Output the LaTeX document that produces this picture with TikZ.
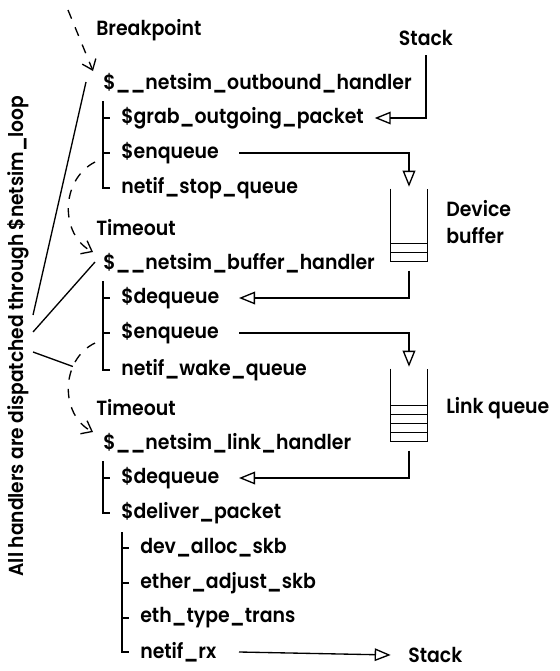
\documentclass[tikz,border=0pt]{standalone}
\usepackage{fontspec}
\setmainfont{Poppins}[BoldFont={* SemiBold}, FakeStretch=0.92]
\usepackage{tikz}
\usetikzlibrary{arrows.meta, positioning, calc}

\tikzset{
  txt/.style={anchor=west, inner sep=0pt, font=\fontsize{15.4}{20}\selectfont\bfseries},
  wire/.style={line width=1pt},
  opentri/.style={wire, -{Triangle[open, length=12pt, width=9.5pt]}},
  jump/.style={wire, dash pattern=on 7pt off 7pt, -{Straight Barb[length=7pt, width=11pt]}},
  bin/.style={minimum width=27pt, minimum height=54pt, inner sep=0pt},
}

\begin{document}
\begin{tikzpicture}[x=0.75pt, y=-0.75pt]
  \useasboundingbox (0,0) rectangle (560,671);

  % outbound handler
  \node[txt] (bp) at (96,30) {Breakpoint};
  \node[txt] (outh) at (103,83) {\$\_\_netsim\_outbound\_handler};
  \node[txt] (grab) at (121,118) {\$grab\_outgoing\_packet};
  \node[txt] (enq1) at (121,153) {\$enqueue};
  \node[txt] (stopq) at (121,188) {netif\_stop\_queue};

  % buffer handler
  \node[txt] (to1) at (96,228) {Timeout};
  \node[txt] (bufh) at (103,263) {\$\_\_netsim\_buffer\_handler};
  \node[txt] (deq1) at (121,298) {\$dequeue};
  \node[txt] (enq2) at (121,333) {\$enqueue};
  \node[txt] (wakeq) at (121,370) {netif\_wake\_queue};

  % link handler
  \node[txt] (to2) at (96,408) {Timeout};
  \node[txt] (linkh) at (103,443) {\$\_\_netsim\_link\_handler};
  \node[txt] (deq2) at (121,478) {\$dequeue};
  \node[txt] (deliver) at (121,513) {\$deliver\_packet};
  \node[txt] (alloc) at (140,548) {dev\_alloc\_skb};
  \node[txt] (adjust) at (140,583) {ether\_adjust\_skb};
  \node[txt] (ethtype) at (140,618) {eth\_type\_trans};
  \node[txt] (rx) at (140,652) {netif\_rx};

  % stacks and queues
  \node[txt, anchor=center] (stacktop) at (426,38) {Stack};
  \node[txt] (stackbot) at (408,655) {Stack};
  \node[bin] (devbuf) at (409,225) {};
  \node[bin] (linkq) at (409,405) {};
  \node[txt, align=left] (devlbl) at (446,222) {Device\\buffer};
  \node[txt] (linklbl) at (446,408) {Link queue};

  \node[txt, anchor=center, rotate=90, font=\fontsize{15.2}{18}\selectfont\bfseries] (loopnote) at (18,336)
    {All handlers are dispatched through \$netsim\_loop};

  \draw[wire] (devbuf.north west) |- (devbuf.south east) -- (devbuf.north east);
  \foreach \k in {1,2}
    \draw[wire] ([yshift=\k*6.75pt]devbuf.south west) -- ([yshift=\k*6.75pt]devbuf.south east);
  \draw[wire] (linkq.north west) |- (linkq.south east) -- (linkq.north east);
  \foreach \k in {1,...,4}
    \draw[wire] ([yshift=\k*6.75pt]linkq.south west) -- ([yshift=\k*6.75pt]linkq.south east);

  % call trees
  \draw[wire] (outh.west) ++(0,18) |- ([xshift=-8pt]stopq.west);
  \foreach \n in {grab,enq1}
    \draw[wire] (outh.west |- \n.west) -- ([xshift=-8pt]\n.west);
  \draw[wire] (bufh.west) ++(0,18) |- ([xshift=-8pt]wakeq.west);
  \foreach \n in {deq1,enq2}
    \draw[wire] (bufh.west |- \n.west) -- ([xshift=-8pt]\n.west);
  \draw[wire] (linkh.west) ++(0,18) |- ([xshift=-8pt]deliver.west);
  \draw[wire] (linkh.west |- deq2.west) -- ([xshift=-8pt]deq2.west);
  \draw[wire] (deliver.west) ++(1,19) |- ([xshift=-8pt]rx.west);
  \foreach \n in {alloc,adjust,ethtype}
    \draw[wire] ([xshift=0.75pt]deliver.west |- \n.west) -- ([xshift=-8pt]\n.west);

  % data flow
  \coordinate (col) at (239,0);
  \draw[opentri] ([yshift=-7pt]stacktop.south) |- ([xshift=8pt]grab.east);
  \draw[opentri] (col |- enq1) -| ([yshift=1.5pt]devbuf.north);
  \draw[opentri] ([yshift=-7pt]devbuf.south) |- (col |- deq1);
  \draw[opentri] (col |- enq2) -| ([yshift=1.5pt]linkq.north);
  \draw[opentri] ([yshift=-7pt]linkq.south) |- (col |- deq2);
  \draw[opentri] (col |- rx) -- ([xshift=-13pt]stackbot.west);

  % triggers
  \draw[jump] (68,10) -- ([shift={(-10,-12)}]outh.west);
  \draw[jump] ([shift={(-26,9)}]enq1.west) .. controls (60,180) and (60,235) .. ([shift={(-10,-11)}]bufh.west);
  \draw[jump] ([shift={(-26,10)}]enq2.west) .. controls (60,360) and (60,415) .. ([shift={(-10,-11)}]linkh.west)
    coordinate[pos=0.3] (hit);

  % dispatch
  \draw[wire] ([shift={(4,-21)}]loopnote.south) -- ([shift={(-17,-1)}]outh.west);
  \draw[wire] ([shift={(4,-4)}]loopnote.south) -- ([shift={(-8,-1)}]bufh.west);
  \draw[wire] ([shift={(4,16)}]loopnote.south) -- (hit);
\end{tikzpicture}
\end{document}
